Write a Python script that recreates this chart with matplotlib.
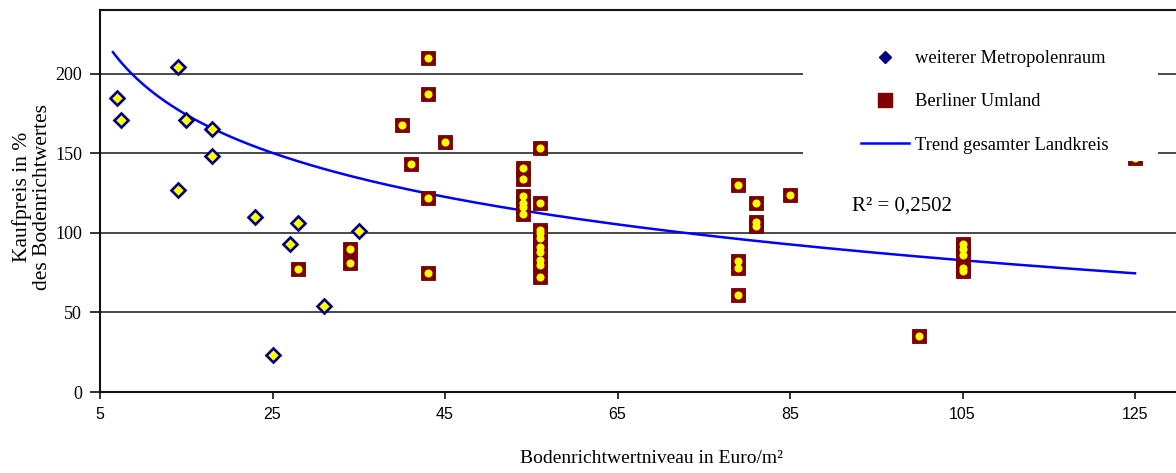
import numpy as np
import matplotlib
matplotlib.use("Agg")
import matplotlib.pyplot as plt
from matplotlib.lines import Line2D
from matplotlib.patches import Rectangle

# ---- data ----
metro_x = [7, 7.4, 14, 15, 18, 18, 14, 23, 28, 27, 35, 31, 25]
metro_y = [185, 171, 204, 171, 165, 148, 127, 110, 106, 93, 101, 54, 23]

umland_x = [43, 43, 40, 45, 41, 43, 28, 34, 34, 43,
            56, 54, 54, 54, 54, 54, 54, 56,
            56, 56, 56, 56, 56, 56, 56, 56,
            79, 81, 81, 81, 85, 79, 79, 79,
            105, 105, 105, 105, 105, 100, 125]
umland_y = [210, 187, 168, 157, 143, 122, 77, 90, 81, 75,
            153, 141, 134, 123, 119, 116, 112, 119,
            102, 100, 97, 91, 88, 83, 80, 72,
            130, 119, 107, 104, 124, 82, 78, 61,
            93, 90, 86, 78, 76, 35, 147]

x_ticks = [5, 25, 45, 65, 85, 105, 125]
y_ticks = [0, 50, 100, 150, 200]

# logarithmic trend y = a*ln(x) + b, coefficients
trend_range = [6.5, 125]
trend_a = -47.0
trend_b = 301.5
r2_text = "R² = 0,2502"

labels = ["weiterer Metropolenraum", "Berliner Umland", "Trend gesamter Landkreis"]
x_label = "Bodenrichtwertniveau in Euro/m²"
y_label = "Kaufpreis in %\ndes Bodenrichtwertes"

# ---- figure ----
W, H = 1176, 473
fig = plt.figure(figsize=(W / 100, H / 100), dpi=100)
ax_left, ax_right, ax_top, ax_bottom = 100, 1176, 10, 392
ax = fig.add_axes([ax_left / W, (H - ax_bottom) / H,
                   (ax_right - ax_left) / W, (ax_bottom - ax_top) / H])
px_per_unit = 8.625
ax.set_xlim(5, 5 + (ax_right - ax_left) / px_per_unit)
ax.set_ylim(0, 240)

serif = ["Liberation Serif", "DejaVu Serif"]
sans = ["Liberation Sans", "DejaVu Sans"]

for y in y_ticks[1:]:
    ax.axhline(y, color="#3a3a3a", lw=1.3, zorder=1)

tx = np.linspace(trend_range[0], trend_range[1], 300)
ax.plot(tx, trend_a * np.log(tx) + trend_b, color="#0000ff", lw=1.8, zorder=2)

# series
ax.plot(metro_x, metro_y, ls="none", marker="D", ms=7.0, mfc="#ffff00",
        mec="#000080", mew=1.9, zorder=3)
ax.plot(umland_x, umland_y, ls="none", marker="s", ms=10.5, mfc="#800000",
        mec="#700000", mew=0.6, zorder=3)
ax.plot(umland_x, umland_y, ls="none", marker="o", ms=5.8, mfc="#ffff00",
        mec="none", zorder=3.5)

# legend area (white box hiding the grid)
box = Rectangle((803 / W, 1 - 161 / H), (1158 - 803) / W, (161 - 22) / H,
                transform=fig.transFigure, facecolor="white", edgecolor="none",
                zorder=4)
ax.add_artist(box)

handles = [
    Line2D([], [], ls="none", marker="D", ms=6, mfc="#000080", mec="#000080"),
    Line2D([], [], ls="none", marker="s", ms=10, mfc="#800000", mec="#800000"),
    Line2D([], [], color="#0000ff", lw=1.8),
]
leg = ax.legend(handles, labels, loc="upper left",
                bbox_to_anchor=(852 / W, 1 - 41 / H), bbox_transform=fig.transFigure,
                frameon=False, borderpad=0, handlelength=2.6, handletextpad=0.3,
                labelspacing=1.42, prop={"family": serif, "size": 13.3})
leg.set_zorder(5)

ax.text(98, 117, r2_text, ha="center", va="center", fontsize=15,
        family=serif, zorder=5)

# axes styling
for s in ["left", "bottom", "top"]:
    ax.spines[s].set_color("#111111")
    ax.spines[s].set_linewidth(1.5)
ax.spines["right"].set_visible(False)

ax.set_xticks(x_ticks)
ax.set_yticks(y_ticks)
ax.tick_params(axis="x", direction="out", length=5, width=1.2, pad=6,
               labelsize=11.5, color="#111111")
ax.tick_params(axis="y", direction="out", length=7, width=1.2, pad=6,
               labelsize=13, color="#111111")
for t in ax.get_xticklabels():
    t.set_family(sans)
for t in ax.get_yticklabels():
    t.set_family(serif)

ax.set_xlabel(x_label, fontsize=14, family=serif)
ax.xaxis.set_label_coords((651 - ax_left) / (ax_right - ax_left),
                          (ax_bottom - 450) / (ax_bottom - ax_top))
ax.set_ylabel(y_label, fontsize=15.5, family=serif, linespacing=1.05)
ax.yaxis.set_label_coords((52 - ax_left) / (ax_right - ax_left),
                          (ax_bottom - 197) / (ax_bottom - ax_top))

fig.savefig("out.png", dpi=100)
